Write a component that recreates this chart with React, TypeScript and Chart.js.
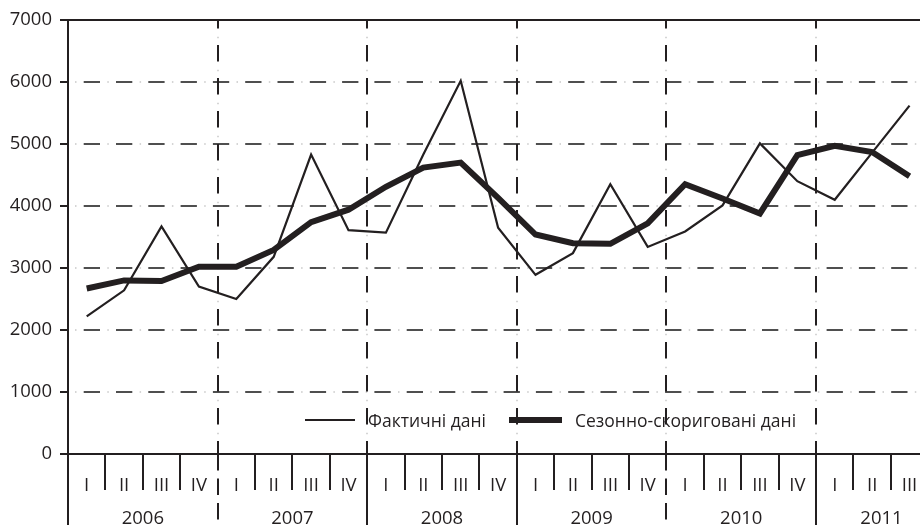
import React, { useEffect, useRef } from 'react';
import { Chart, registerables } from 'chart.js';

Chart.register(...registerables);

// ---- data ----
const years = ['2006', '2007', '2008', '2009', '2010', '2011'];
const quarterNames = ['I', 'II', 'III', 'IV'];
const actualValues = [
  2220, 2640, 3670, 2700,
  2500, 3180, 4830, 3610,
  3570, 4830, 6020, 3650,
  2890, 3240, 4350, 3340,
  3590, 4010, 5010, 4400,
  4100, 4860, 5620,
];
const adjustedValues = [
  2670, 2800, 2790, 3020,
  3020, 3290, 3740, 3940,
  4310, 4620, 4700, 4130,
  3540, 3400, 3390, 3720,
  4350, 4120, 3880, 4820,
  4970, 4870, 4480,
];
const yTickValues = [0, 1000, 2000, 3000, 4000, 5000, 6000, 7000];
const legendLabels = ['Фактичні дані', 'Сезонно-скориговані дані'];

const INK = '#231f20';
const GRID = '#4f4f4f';
const DOT = '#c8c8c8';
const FONT = '"Open Sans", "Noto Sans", sans-serif';
const FONT_SIZE = 18.5;
const LEGEND_FONT_SIZE = 17.5;
const VISIBLE_QUARTERS = 22.78;

export default function App() {
  const ref = useRef<HTMLCanvasElement>(null);

  useEffect(() => {
    const canvas = ref.current;
    if (!canvas) return;
    const n = actualValues.length;

    const decorations = {
      id: 'decorations',
      beforeDatasetsDraw(chart: any) {
        const { ctx, chartArea: a, scales } = chart;
        const x = scales.x;
        const y = scales.y;
        ctx.save();
        // horizontal dash-dot grid
        yTickValues.forEach((v) => {
          if (v <= y.min || v >= y.max) return;
          const py = Math.round(y.getPixelForValue(v));
          ctx.beginPath();
          ctx.strokeStyle = GRID;
          ctx.lineWidth = 2;
          ctx.setLineDash([16.3, 16]);
          ctx.lineDashOffset = 16.6;
          ctx.moveTo(a.left, py);
          ctx.lineTo(a.right, py);
          ctx.stroke();
          ctx.beginPath();
          ctx.strokeStyle = DOT;
          ctx.lineWidth = 1.5;
          ctx.setLineDash([1.5, 30.8]);
          ctx.lineDashOffset = 25.3;
          ctx.moveTo(a.left, py);
          ctx.lineTo(a.right, py);
          ctx.stroke();
        });
        // vertical dashed year boundaries
        for (let q = 4; q < n; q += 4) {
          const px = Math.round(x.getPixelForValue(q));
          ctx.beginPath();
          ctx.strokeStyle = INK;
          ctx.lineWidth = 2;
          ctx.setLineDash([16.5, 16.5]);
          ctx.lineDashOffset = 8;
          ctx.moveTo(px, a.top);
          ctx.lineTo(px, a.bottom);
          ctx.stroke();
          ctx.beginPath();
          ctx.strokeStyle = DOT;
          ctx.lineWidth = 1.5;
          ctx.setLineDash([1.5, 31.5]);
          ctx.lineDashOffset = 16.3;
          ctx.moveTo(px, a.top);
          ctx.lineTo(px, a.bottom);
          ctx.stroke();
        }
        ctx.restore();
      },
      afterDatasetsDraw(chart: any) {
        const { ctx } = chart;
        ctx.save();
        ctx.setLineDash([]);
        const ly = 420;
        ctx.strokeStyle = INK;
        ctx.lineCap = 'butt';
        ctx.lineWidth = 2.2;
        ctx.beginPath();
        ctx.moveTo(305, ly);
        ctx.lineTo(355, ly);
        ctx.stroke();
        ctx.lineWidth = 6;
        ctx.beginPath();
        ctx.moveTo(509, ly);
        ctx.lineTo(562, ly);
        ctx.stroke();
        ctx.fillStyle = INK;
        ctx.font = `${LEGEND_FONT_SIZE}px ${FONT}`;
        ctx.textAlign = 'left';
        ctx.textBaseline = 'alphabetic';
        ctx.fillText(legendLabels[0], 368, ly + 6.5);
        ctx.fillText(legendLabels[1], 575, ly + 6.5);
        ctx.restore();
      },
      afterDraw(chart: any) {
        const { ctx, chartArea: a, scales } = chart;
        const x = scales.x;
        const y = scales.y;
        const bottom = chart.height;
        const y0 = Math.round(y.getPixelForValue(0));
        const yTop = Math.round(y.getPixelForValue(y.max));
        ctx.save();
        ctx.setLineDash([]);
        ctx.strokeStyle = INK;
        ctx.lineWidth = 2;
        // top line & zero line
        ctx.beginPath();
        ctx.moveTo(a.left, yTop);
        ctx.lineTo(chart.width, yTop);
        ctx.moveTo(a.left, y0);
        ctx.lineTo(chart.width, y0);
        // y axis extension below zero
        ctx.moveTo(a.left, y0);
        ctx.lineTo(a.left, bottom);
        ctx.stroke();
        // quarter separators
        ctx.beginPath();
        for (let q = 1; q < n; q++) {
          if (q % 4 === 0) continue;
          const px = Math.round(x.getPixelForValue(q));
          ctx.moveTo(px, y0);
          ctx.lineTo(px, y0 + 36);
        }
        ctx.stroke();
        // year boundaries below axis
        for (let q = 4; q < n; q += 4) {
          const px = Math.round(x.getPixelForValue(q));
          const yi = q / 4;
          ctx.beginPath();
          if (yi === 1 || yi === 4) {
            ctx.setLineDash([16.5, 8]);
            ctx.lineDashOffset = 0;
          } else {
            ctx.setLineDash([]);
          }
          ctx.moveTo(px, y0);
          ctx.lineTo(px, bottom);
          ctx.stroke();
        }
        ctx.setLineDash([]);
        // labels
        ctx.fillStyle = INK;
        ctx.font = `${FONT_SIZE}px ${FONT}`;
        ctx.textAlign = 'center';
        ctx.textBaseline = 'alphabetic';
        for (let q = 0; q < n; q++) {
          const px = x.getPixelForValue(q + 0.5);
          ctx.fillText(quarterNames[q % 4], px, y0 + 36.5);
        }
        years.forEach((yr, i) => {
          const start = i * 4;
          const count = Math.min(4, n - start);
          if (count <= 0) return;
          const span = count === 4 ? 4 : count + 0.5;
          const px = x.getPixelForValue(start + span / 2);
          ctx.fillText(yr, px, bottom - 1.5);
        });
        ctx.restore();
      },
    };

    const chart = new Chart(canvas, {
      type: 'line',
      data: {
        datasets: [
          {
            label: legendLabels[0],
            data: actualValues.map((v, i) => ({ x: i + 0.5, y: v })),
            borderColor: INK,
            borderWidth: 2.2,
            pointRadius: 0,
            tension: 0,
            borderJoinStyle: 'miter',
            fill: false,
            order: 2,
          },
          {
            label: legendLabels[1],
            data: adjustedValues.map((v, i) => ({ x: i + 0.5, y: v })),
            borderColor: INK,
            borderWidth: 6,
            pointRadius: 0,
            tension: 0,
            borderJoinStyle: 'miter',
            fill: false,
            order: 1,
          },
        ],
      },
      options: {
        animation: false,
        responsive: false,
        layout: { padding: { left: 0, top: 20, right: 0, bottom: 71 } },
        plugins: {
          legend: { display: false },
          tooltip: { enabled: false },
        },
        scales: {
          x: {
            type: 'linear',
            min: 0,
            max: VISIBLE_QUARTERS,
            display: false,
          },
          y: {
            min: 0,
            max: 7000,
            afterFit: (scale: any) => {
              scale.width = 68;
            },
            afterBuildTicks: (scale: any) => {
              scale.ticks = yTickValues.map((v) => ({ value: v }));
            },
            ticks: {
              color: INK,
              padding: 8,
              font: { family: FONT, size: FONT_SIZE },
              callback: (v: any) => String(v),
            },
            grid: {
              drawOnChartArea: false,
              drawTicks: true,
              tickLength: 8,
              color: INK,
              lineWidth: 2,
            },
            border: { display: true, color: INK, width: 2 },
          },
        },
      },
      plugins: [decorations],
    } as any);

    return () => chart.destroy();
  }, []);

  return (
    <div style={{ position: 'absolute', left: 0, top: 0, width: 920, height: 525, background: '#fff' }}>
      <canvas ref={ref} width={920} height={525} style={{ display: 'block' }} />
    </div>
  );
}
